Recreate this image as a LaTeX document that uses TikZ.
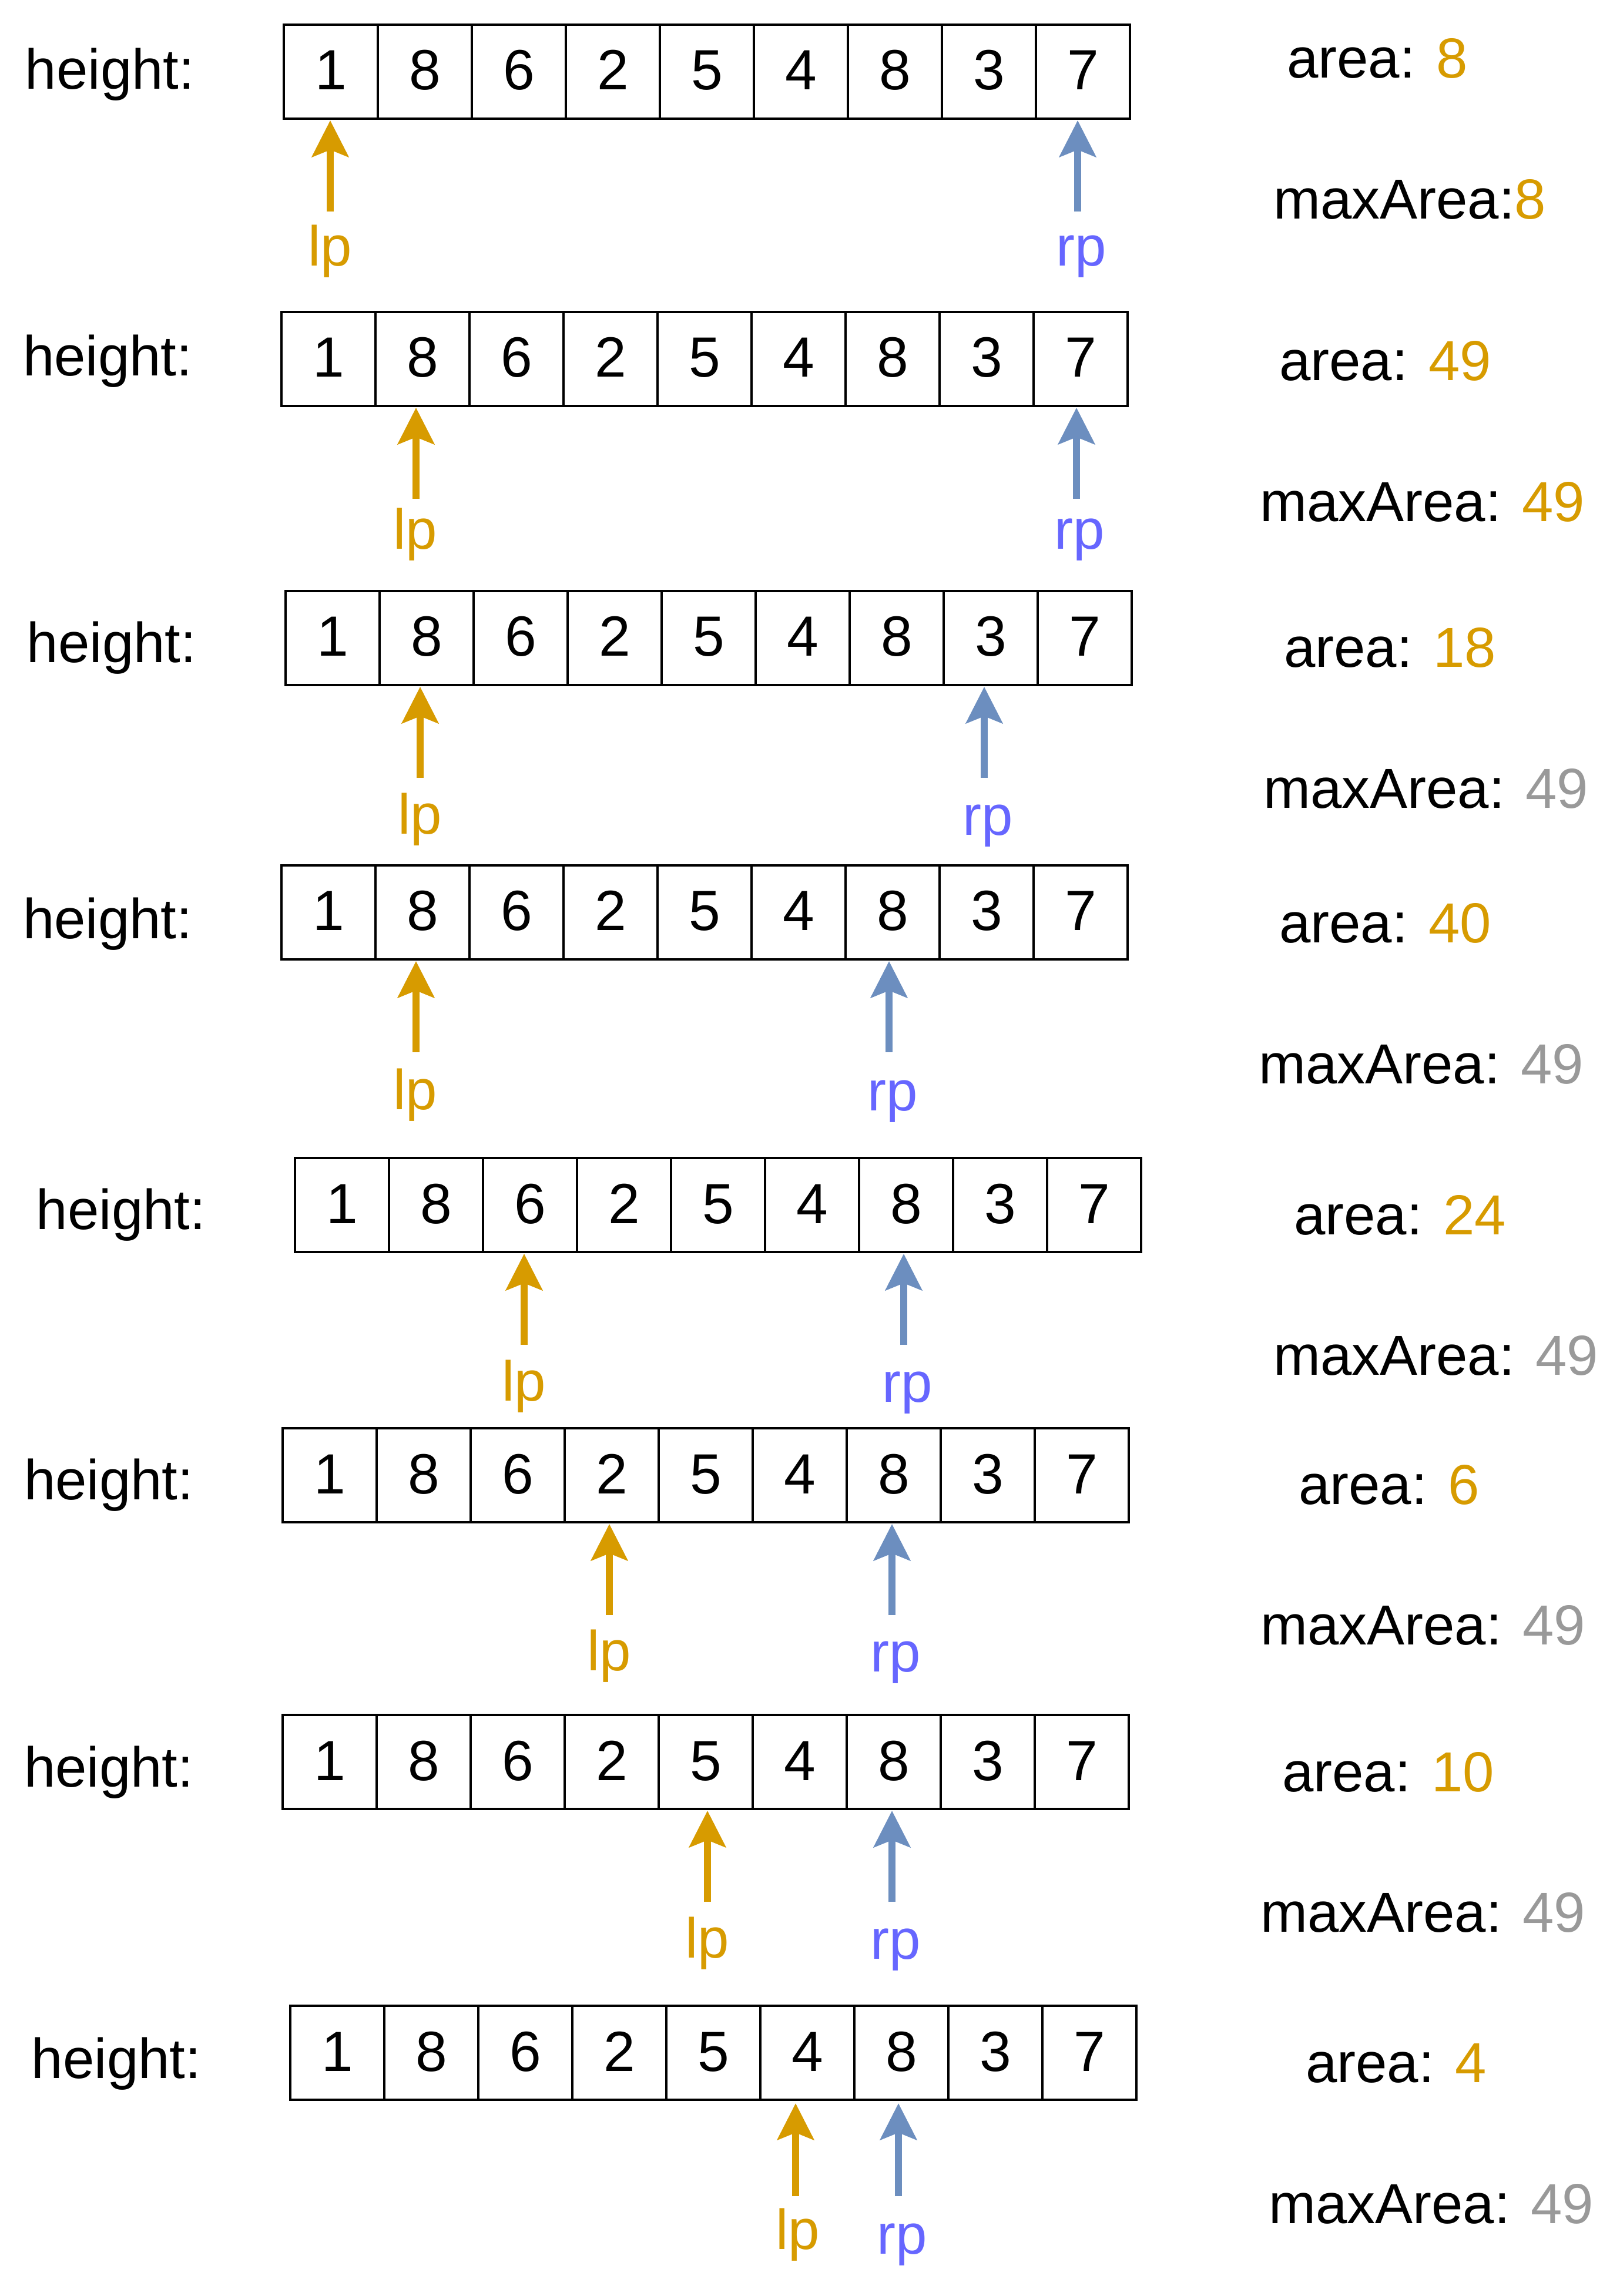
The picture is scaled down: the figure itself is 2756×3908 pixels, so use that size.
\documentclass[tikz,border=0pt]{standalone}
\usepackage{fontspec}
\setmainfont{Liberation Sans}
\usetikzlibrary{arrows.meta}
\definecolor{org}{HTML}{D79B00}
\definecolor{arrblue}{HTML}{6C8EBF}
\definecolor{rptxt}{HTML}{6666FF}
\definecolor{gry}{HTML}{999999}
\tikzset{
  cell/.style={draw, line width=0.38pt, anchor=north west, inner sep=0pt, outer sep=0pt,
    minimum width=16pt, minimum height=16pt, text height=7pt, text depth=0.8pt,
    font=\fontsize{9.65pt}{11pt}\selectfont},
  txt/.style={inner sep=0pt, outer sep=0pt, anchor=base west, font=\fontsize{9.6pt}{11pt}\selectfont},
  ptrline/.style={line width=1.15pt, -{Stealth[length=6.2pt,width=6.2pt,inset=1.2pt]}}
}
\newcommand{\cellrow}[4]{%
  \foreach \v [count=\k] in {1,8,6,2,5,4,8,3,7} {
    \node[cell] (#1-\k) at ({#2+160*(\k-1)}, #3) {\v};
  }
  \node[txt] (#1-h) at ({#2-440}, #4) {height:};
}
% id, x, tip y, tail y, arrow colour, text colour, text, baseline, label x shift
\newcommand{\ptr}[9]{%
  \coordinate (#1-tip) at (#2,#3);
  \coordinate (#1-tail) at (#2,#4);
  \node[txt, anchor=base, text=#6] (#1-lab) at ({#2+#9},#8) {#7};
  \draw[ptrline, draw=#5] (#1-tail) -- (#1-tip);
}
\begin{document}
\begin{tikzpicture}[x=0.1pt, y=-0.1pt]
\fill[white] (0,0) rectangle (2756,3908);
\useasboundingbox (0,0) rectangle (2756,3908);

% Row 1
\cellrow{r1}{483}{42}{152}
\ptr{r1l}{562}{205}{360}{org}{org}{lp}{453}{0}
\ptr{r1r}{1834}{205}{360}{arrblue}{rptxt}{rp}{453}{6}
\node[txt] (r1a) at (2190,133) {area: \textcolor{org}{8}};
\node[txt] (r1m) at (2167,373) {maxArea:\textcolor{org}{8}};

% Row 2
\cellrow{r2}{479}{531}{640}
\ptr{r2l}{708}{694}{849}{org}{org}{lp}{935}{-1}
\ptr{r2r}{1832}{694}{849}{arrblue}{rptxt}{rp}{935}{5}
\node[txt] (r2a) at (2177,648) {area: \textcolor{org}{49}};
\node[txt] (r2m) at (2144,888) {maxArea: \textcolor{org}{49}};

% Row 3
\cellrow{r3}{486}{1006}{1128}
\ptr{r3l}{715}{1169}{1324}{org}{org}{lp}{1420}{0}
\ptr{r3r}{1675}{1169}{1324}{arrblue}{rptxt}{rp}{1422}{6}
\node[txt] (r3a) at (2185,1136) {area: \textcolor{org}{18}};
\node[txt] (r3m) at (2150,1376) {maxArea: \textcolor{gry}{49}};

% Row 4
\cellrow{r4}{479}{1473}{1598}
\ptr{r4l}{708}{1636}{1791}{org}{org}{lp}{1888}{-1}
\ptr{r4r}{1513}{1636}{1791}{arrblue}{rptxt}{rp}{1890}{6}
\node[txt] (r4a) at (2177,1605) {area: \textcolor{org}{40}};
\node[txt] (r4m) at (2142,1844) {maxArea: \textcolor{gry}{49}};

% Row 5
\cellrow{r5}{502}{1971}{2092}
\ptr{r5l}{892}{2134}{2289}{org}{org}{lp}{2384}{0}
\ptr{r5r}{1538}{2134}{2289}{arrblue}{rptxt}{rp}{2386}{6}
\node[txt] (r5a) at (2202,2101) {area: \textcolor{org}{24}};
\node[txt] (r5m) at (2167,2340) {maxArea: \textcolor{gry}{49}};

% Row 6
\cellrow{r6}{481}{2431}{2552}
\ptr{r6l}{1037}{2594}{2749}{org}{org}{lp}{2843}{0}
\ptr{r6r}{1518}{2594}{2749}{arrblue}{rptxt}{rp}{2845}{6}
\node[txt] (r6a) at (2210,2560) {area: \textcolor{org}{6}};
\node[txt] (r6m) at (2145,2799) {maxArea: \textcolor{gry}{49}};

% Row 7
\cellrow{r7}{481}{2919}{3041}
\ptr{r7l}{1204}{3082}{3237}{org}{org}{lp}{3332}{0}
\ptr{r7r}{1518}{3082}{3237}{arrblue}{rptxt}{rp}{3334}{6}
\node[txt] (r7a) at (2182,3049) {area: \textcolor{org}{10}};
\node[txt] (r7m) at (2145,3288) {maxArea: \textcolor{gry}{49}};

% Row 8
\cellrow{r8}{494}{3414}{3537}
\ptr{r8l}{1354}{3580}{3738}{org}{org}{lp}{3828}{4}
\ptr{r8r}{1529}{3580}{3738}{arrblue}{rptxt}{rp}{3836}{6}
\node[txt] (r8a) at (2222,3544) {area: \textcolor{org}{4}};
\node[txt] (r8m) at (2159,3784) {maxArea: \textcolor{gry}{49}};
\end{tikzpicture}
\end{document}
